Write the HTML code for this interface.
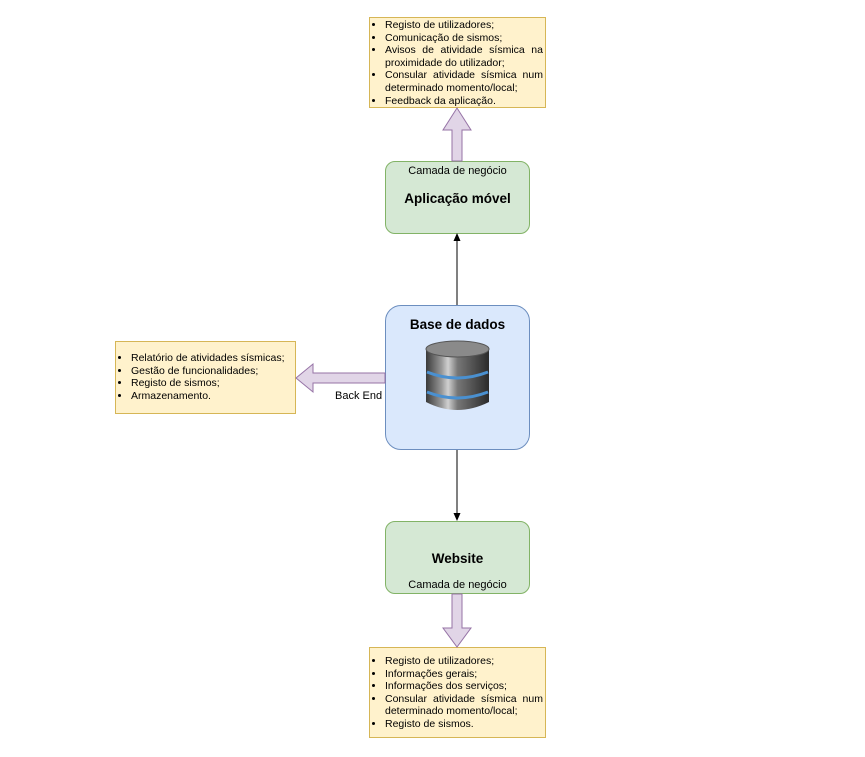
<!DOCTYPE html>
<html><head><meta charset="utf-8"><style>
body{margin:0;width:865px;height:757px;background:#fff;font-family:"Liberation Sans",sans-serif;position:relative;overflow:hidden}
.a{position:absolute;box-sizing:border-box}
.y{background:#fff2cc;border:1px solid #d6b656;font-size:10.5px;line-height:12.6px;color:#000}
.y ul{margin:0;padding:0 2px 0 15px;list-style:disc}
.y li{text-align:justify;text-align-last:left}
.g{background:#d5e8d4;border:1px solid #82b366;border-radius:10px}
.t{position:absolute;width:100%;text-align:center}
</style></head><body>
<div class="a y" style="left:369px;top:17px;width:177px;height:91px;padding-top:1px"><ul>
<li>Registo de utilizadores;</li><li>Comunicação de sismos;</li><li>Avisos de atividade sísmica na proximidade do utilizador;</li><li>Consular atividade sísmica num determinado momento/local;</li><li>Feedback da aplicação.</li></ul></div>

<div class="a g" style="left:385px;top:161px;width:145px;height:73px">
<div class="t" style="top:3px;font-size:11px">Camada de negócio</div>
<div class="t" style="top:29px;font-size:13.5px;font-weight:bold">Aplicação móvel</div></div>

<div class="a" style="left:385px;top:305px;width:145px;height:145px;background:#dae8fc;border:1px solid #6c8ebf;border-radius:16px">
<div class="t" style="top:11px;font-size:13.5px;font-weight:bold">Base de dados</div></div>

<div class="a y" style="left:115px;top:341px;width:181px;height:73px;padding-top:10px"><ul>
<li>Relatório de atividades sísmicas;</li><li>Gestão de funcionalidades;</li><li>Registo de sismos;</li><li>Armazenamento.</li></ul></div>

<div class="a" style="left:335px;top:390px;font-size:11px">Back End</div>

<div class="a g" style="left:385px;top:521px;width:145px;height:73px">
<div class="t" style="top:29px;font-size:13.5px;font-weight:bold">Website</div>
<div class="t" style="top:57px;font-size:11px">Camada de negócio</div></div>

<div class="a y" style="left:369px;top:647px;width:177px;height:91px;padding-top:7px"><ul>
<li>Registo de utilizadores;</li><li>Informações gerais;</li><li>Informações dos serviços;</li><li>Consular atividade sísmica num determinado momento/local;</li><li>Registo de sismos.</li></ul></div>

<svg class="a" style="left:0;top:0" width="865" height="757">
<defs>
<linearGradient id="cy" x1="0" x2="1"><stop offset="0" stop-color="#3a3a3a"/><stop offset="0.25" stop-color="#9a9a9a"/><stop offset="0.35" stop-color="#d0d0d0"/><stop offset="0.5" stop-color="#777"/><stop offset="1" stop-color="#2a2a2a"/></linearGradient>
</defs>
<polygon points="452,161 452,130 443,130 457,108 471,130 462,130 462,161" fill="#e1d5e7" stroke="#9673a6"/>
<polygon points="385,373 313,373 313,364 296,378 313,392 313,383 385,383" fill="#e1d5e7" stroke="#9673a6"/>
<polygon points="452,594 452,628 443,628 457,647 471,628 462,628 462,594" fill="#e1d5e7" stroke="#9673a6"/>
<line x1="457" y1="305" x2="457" y2="240" stroke="#000"/>
<polygon points="457,233 453.5,241 460.5,241" fill="#000"/>
<line x1="457" y1="450" x2="457" y2="514" stroke="#000"/>
<polygon points="457,521 453.5,513 460.5,513" fill="#000"/>
<path d="M426,350 L426,402 Q457,418 489,402 L489,350 Z" fill="url(#cy)"/>
<ellipse cx="457.5" cy="349" rx="31.5" ry="8" fill="#8a8a8a" stroke="#555"/>
<path d="M427,372 Q457,384 488,372" stroke="#4a90d0" stroke-width="3" fill="none"/>
<path d="M427,392 Q457,404 488,392" stroke="#4a90d0" stroke-width="3" fill="none"/>
</svg>
</body></html>
